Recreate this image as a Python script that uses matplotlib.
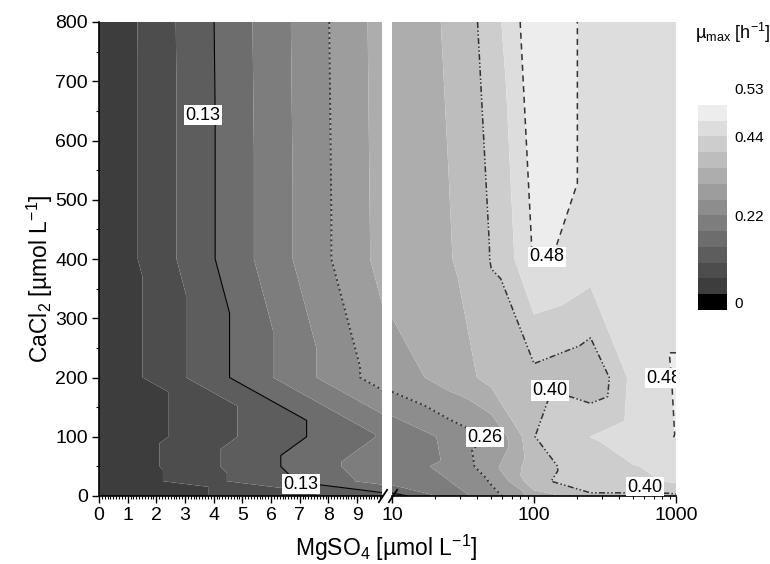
import numpy as np
import matplotlib
matplotlib.use('Agg')
import matplotlib.pyplot as plt
import matplotlib.tri as mtri
from matplotlib.colors import ListedColormap, BoundaryNorm
from matplotlib.colorbar import Colorbar
from matplotlib.ticker import MultipleLocator, FixedLocator, LogLocator, NullFormatter

plt.rcParams['font.family'] = ['Liberation Sans', 'DejaVu Sans']
plt.rcParams['mathtext.fontset'] = 'custom'
plt.rcParams['mathtext.rm'] = 'Liberation Sans'
plt.rcParams['mathtext.it'] = 'Liberation Sans:italic'

# ---------------- data ----------------
MGSO4 = [0, 10, 25, 50, 100, 250, 500, 1000]          # µmol/L
CACL2 = [0, 25, 50, 100, 200, 400, 800]                # µmol/L
MU_CA0 = [0.0, 0.116, 0.20, 0.25, 0.33, 0.39, 0.39, 0.39]
MU_CA25 = [0.0, 0.198, 0.22, 0.27, 0.39, 0.425, 0.43, 0.45]
MU_CA50 = [0.0, 0.209, 0.23, 0.297, 0.385, 0.425, 0.44, 0.455]
MU_CA100 = [0.0, 0.183, 0.237, 0.272, 0.397, 0.442, 0.47, 0.487]
MU_CA200 = [0.0, 0.291, 0.33, 0.37, 0.385, 0.363, 0.46, 0.49]
MU_CA400 = [0.0, 0.327, 0.35, 0.40, 0.4916, 0.466, 0.47, 0.47]
MU_CA800 = [0.0, 0.33, 0.359, 0.423, 0.528, 0.466, 0.46, 0.46]

MU_MAX_TOP = 0.53
N_BANDS = 12
CB_TICK_LABELS = ['0', '0.22', '0.44', '0.53']
LINE_LABELS = ['0.13', '0.26', '0.40', '0.48']

LEVELS = np.linspace(0, MU_MAX_TOP, N_BANDS + 1)
STEP = LEVELS[1] - LEVELS[0]
Z = np.array([MU_CA0, MU_CA25, MU_CA50, MU_CA100, MU_CA200, MU_CA400, MU_CA800])

# ---------------- styles ----------------
band_colors = [(g, g, g) for g in np.linspace(0.24, 0.93, N_BANDS)]


def build_tri(xs, ys):
    nx, ny = len(xs), len(ys)
    X, Y = np.meshgrid(xs, ys)
    tris = []
    for j in range(ny - 1):
        for i in range(nx - 1):
            p00 = j * nx + i
            p10 = j * nx + i + 1
            p01 = (j + 1) * nx + i
            p11 = (j + 1) * nx + i + 1
            tris.append([p01, p10, p11])
            tris.append([p00, p10, p01])
    return mtri.Triangulation(X.ravel().astype(float), Y.ravel().astype(float), tris)


W, H = 770, 564
fig = plt.figure(figsize=(W / 100, H / 100), dpi=100)

axL = fig.add_axes([99 / W, 1 - 496 / H, 283 / W, 474 / H])
axR = fig.add_axes([392 / W, 1 - 496 / H, 284 / W, 474 / H])

line_specs = [
    (LEVELS[3], dict(colors='black', linewidths=0.8, linestyles='solid')),
    (LEVELS[6], dict(colors='#3a3a3a', linewidths=1.4, linestyles=[(0, (1, 1.6))])),
    (LEVELS[9], dict(colors='#333333', linewidths=1.1, linestyles=[(0, (4, 1.5, 1, 1.5, 1, 1.5))])),
    (LEVELS[11], dict(colors='#333333', linewidths=1.1, linestyles=[(0, (4, 3))])),
]

panels = [(axL, MGSO4[:2], Z[:, :2]), (axR, MGSO4[1:], Z[:, 1:])]
for ax, xs, zz in panels:
    tri = build_tri(xs, CACL2)
    ax.tricontourf(tri, zz.ravel(), levels=LEVELS, colors=band_colors, antialiased=True)
    for lev, kw in line_specs:
        ax.tricontour(tri, zz.ravel(), levels=[lev], **kw)

# left panel axes
axL.set_xlim(0, 9.87)
axL.set_ylim(0, 800)
axL.xaxis.set_major_locator(MultipleLocator(1))
axL.xaxis.set_minor_locator(MultipleLocator(0.1))
axL.yaxis.set_major_locator(MultipleLocator(100))
axL.yaxis.set_minor_locator(MultipleLocator(50))
for s in ['top', 'right']:
    axL.spines[s].set_visible(False)
axL.spines['left'].set_linewidth(1.2)
axL.spines['bottom'].set_linewidth(1.2)
axL.tick_params(which='major', direction='out', length=5, width=1, labelsize=14, pad=3)
axL.tick_params(which='minor', direction='out', length=2.5, width=0.8)

# right panel axes
axR.set_xscale('log')
axR.set_xlim(10, 1000)
axR.set_ylim(0, 800)
axR.xaxis.set_major_locator(FixedLocator([10, 100, 1000]))
axR.set_xticklabels(['10', '100', '1000'])
axR.xaxis.set_minor_locator(LogLocator(base=10, subs=np.arange(2, 10)))
axR.xaxis.set_minor_formatter(NullFormatter())
axR.set_yticks([])
for s in ['top', 'right', 'left']:
    axR.spines[s].set_visible(False)
axR.spines['bottom'].set_linewidth(1.2)
axR.tick_params(which='major', direction='out', length=5, width=1, labelsize=14, pad=3)
axR.tick_params(which='minor', direction='out', length=2.5, width=0.8)

# axis-break marks
axL.plot([0.989, 1.018], [-0.013, 0.013], transform=axL.transAxes, color='black', lw=1.3, clip_on=False, zorder=10)
axR.plot([-0.011, 0.018], [-0.013, 0.013], transform=axR.transAxes, color='black', lw=1.3, clip_on=False, zorder=10)

# contour labels
lbl_kw = dict(ha='center', va='center', fontsize=13, zorder=6, clip_on=True,
              bbox=dict(facecolor='white', edgecolor='none', pad=1.2))
axL.text(3.63, 643, LINE_LABELS[0], **lbl_kw)
axL.text(7.05, 20, LINE_LABELS[0], **lbl_kw)
axR.text(45, 99, LINE_LABELS[1], **lbl_kw)
axR.text(130, 178, LINE_LABELS[2], **lbl_kw)
axR.text(605, 15, LINE_LABELS[2], **lbl_kw)
axR.text(123, 404, LINE_LABELS[3], **lbl_kw)
axR.text(820, 199, LINE_LABELS[3], **lbl_kw)

# axis titles
fig.text(386 / W, 1 - 548 / H, r'MgSO$_\mathregular{4}$ [µmol L$^\mathregular{-1}$]',
         ha='center', va='center', fontsize=16.5)
fig.text(40 / W, 1 - 279 / H, r'CaCl$_\mathregular{2}$ [µmol L$^\mathregular{-1}$]',
         ha='center', va='center', rotation=90, fontsize=16.5)

# colorbar
cax = fig.add_axes([698 / W, 1 - 310 / H, 29 / W, 221 / H])
cb_bounds = [LEVELS[0] - STEP] + list(LEVELS) + [LEVELS[-1] + STEP]
cb_colors = ['black'] + band_colors + ['white']
cmap = ListedColormap(cb_colors)
norm = BoundaryNorm(cb_bounds, cmap.N)
cb = Colorbar(cax, cmap=cmap, norm=norm, boundaries=cb_bounds, spacing='uniform',
              ticks=[LEVELS[0] - STEP / 2, LEVELS[5], LEVELS[10], LEVELS[12] + STEP])
cb.set_ticklabels(CB_TICK_LABELS)
cb.outline.set_visible(False)
cax.minorticks_off()
cax.tick_params(which='both', length=0, labelsize=11, pad=5)
fig.text(695 / W, 1 - 33 / H, r'µ$_\mathregular{max}$ [h$^\mathregular{-1}$]',
         ha='left', va='center', fontsize=13)

fig.savefig('out.png', dpi=100)
